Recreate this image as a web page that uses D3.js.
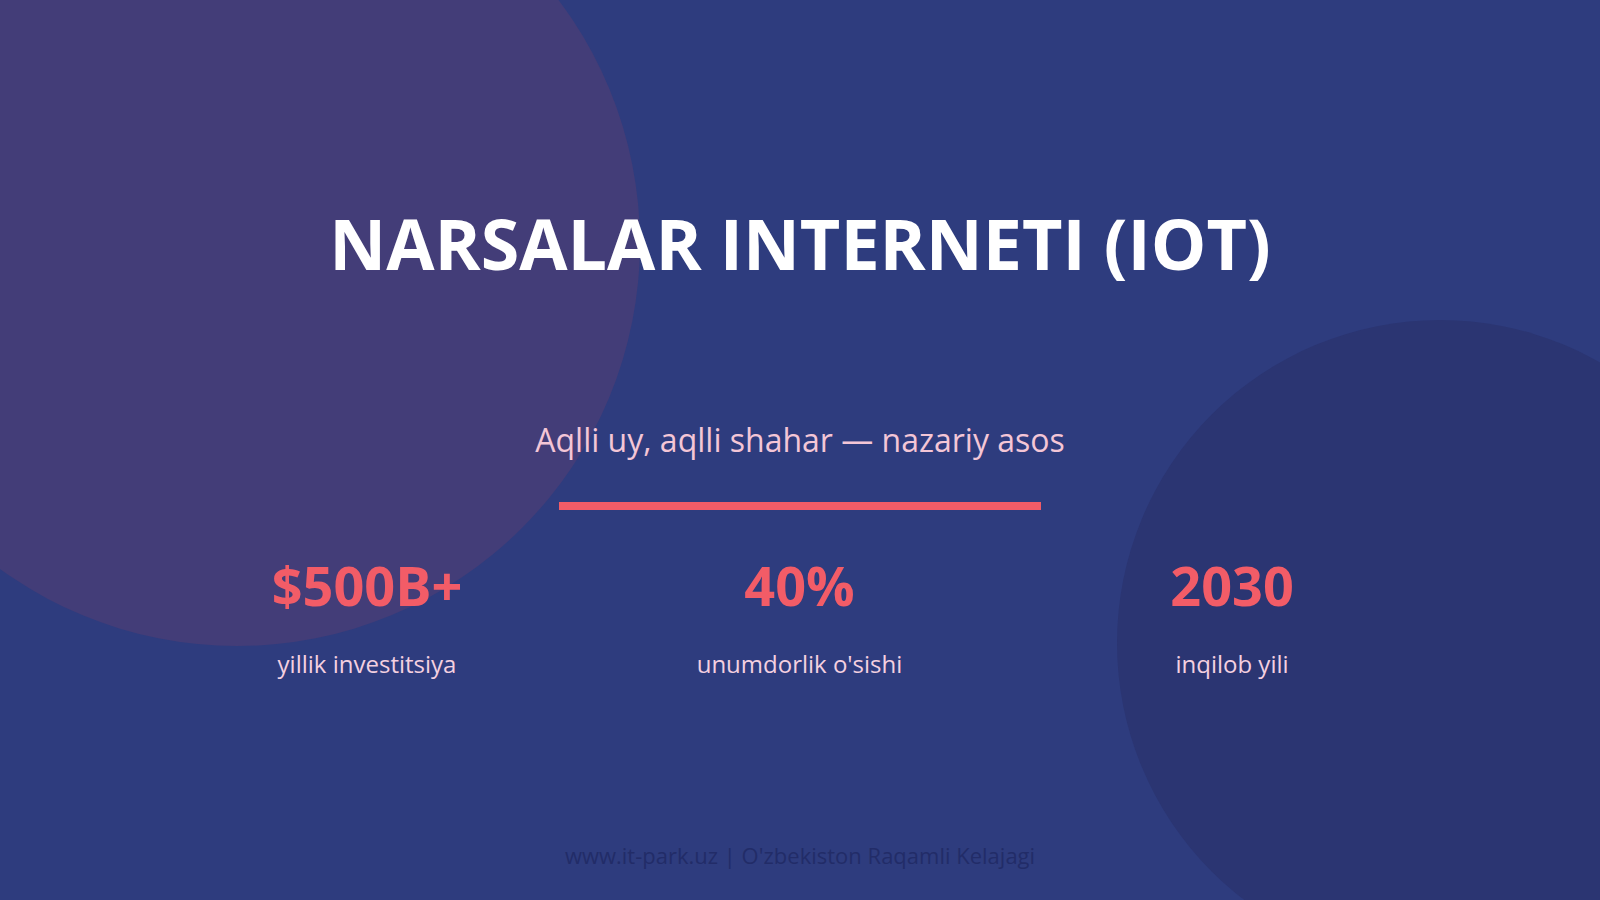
<!DOCTYPE html><html><head><meta charset="utf-8"><script src="https://cdn.jsdelivr.net/npm/d3@7"></script>
<style>body{margin:0;background:#2e3c7e}</style></head><body><svg id="c" width="1600" height="900"></svg>
<script>
const title="NARSALAR INTERNETI (IOT)";
const subtitle="Aqlli uy, aqlli shahar — nazariy asos";
const statValues=["$500B+","40%","2030"];
const statLabels=["yillik investitsiya","unumdorlik o'sishi","inqilob yili"];
const footer="www.it-park.uz | O'zbekiston Raqamli Kelajagi";
const svg=d3.select("#c");
const F="'Open Sans','Noto Sans',sans-serif";
svg.append("rect").attr("width",1600).attr("height",900).attr("fill","#2e3c7e");
svg.append("circle").attr("cx",237).attr("cy",243).attr("r",403).attr("fill","#433d78");
svg.append("circle").attr("cx",1440).attr("cy",643).attr("r",323).attr("fill","#2b3572");
svg.append("text").attr("x",800).attr("y",270).attr("text-anchor","middle").attr("fill","#fff")
 .attr("font-family",F).attr("font-weight",700).attr("font-size",70).text(title);
svg.append("text").attr("x",800).attr("y",452).attr("text-anchor","middle").attr("fill","#f4c6d6")
 .attr("font-family",F).attr("font-size",32).text(subtitle);
svg.append("rect").attr("x",559).attr("y",502).attr("width",482).attr("height",8).attr("fill","#f25c67");
const x=d3.scalePoint().domain(statValues).range([367,1232]);
const g=svg.selectAll("g.s").data(statValues.map((v,i)=>({v,l:statLabels[i]}))).join("g").attr("transform",d=>`translate(${x(d.v)},0)`);
g.append("text").attr("y",606).attr("text-anchor","middle").attr("fill","#f25c67").attr("font-family",F)
 .attr("font-weight",700).attr("font-size",54).text(d=>d.v);
g.append("text").attr("y",673).attr("text-anchor","middle").attr("fill","#f4d0e0").attr("font-family",F)
 .attr("font-size",24).text(d=>d.l);
svg.append("text").attr("x",800).attr("y",864).attr("text-anchor","middle").attr("fill","#222c68")
 .attr("font-family",F).attr("font-size",22).text(footer);
</script></body></html>
